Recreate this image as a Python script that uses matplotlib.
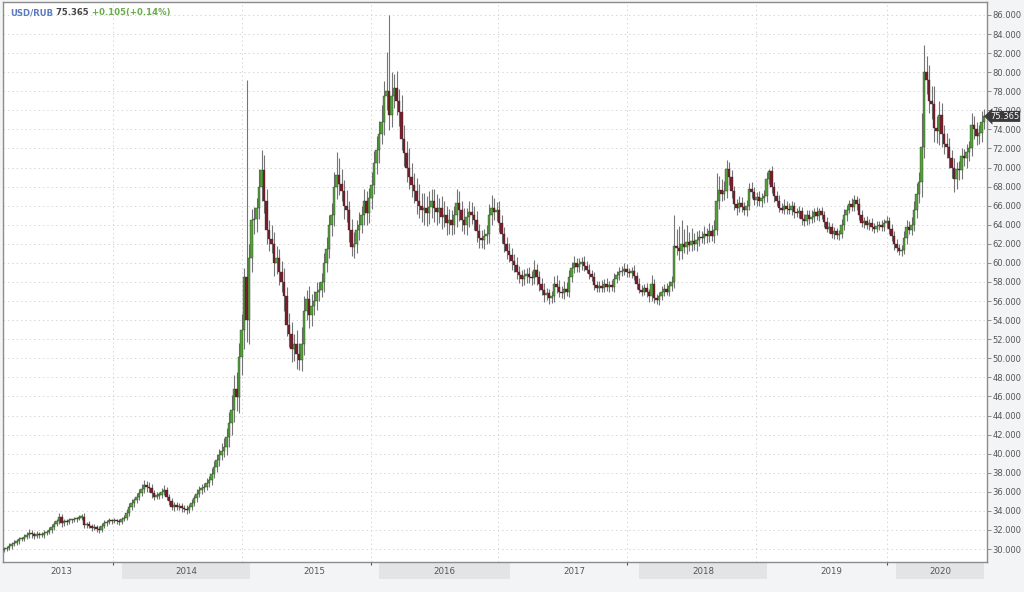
import numpy as np
import matplotlib.pyplot as plt
from matplotlib.patches import Rectangle

# weekly closes of USD/RUB (Mar 2013 .. Sep 2020)
closes = [
    30.0, 30.1, 30.3, 30.5, 30.6, 30.8, 31.0, 31.1, 31.3, 31.5,
    31.7, 31.6, 31.4, 31.6, 31.5, 31.5, 31.7, 31.8, 32.0, 32.3,
    32.6, 32.9, 33.4, 32.7, 32.9, 32.8, 33.0, 33.0, 33.1, 33.2,
    33.3, 33.4, 32.5, 32.6, 32.4, 32.2, 32.3, 32.1, 32.0, 32.4,
    32.7, 32.8, 33.0, 32.9, 33.0, 32.9, 32.8, 33.1, 33.3, 33.8,
    34.4, 34.8, 35.1, 35.5, 35.9, 36.3, 36.7, 36.5, 36.4, 35.9,
    35.5, 35.6, 35.7, 36.0, 36.2, 35.5, 35.0, 34.4, 34.6, 34.4,
    34.5, 34.3, 34.2, 34.1, 34.4, 34.8, 35.3, 35.8, 36.2, 36.4,
    36.5, 36.9, 37.2, 37.9, 38.6, 39.3, 39.9, 40.3, 40.7, 41.7,
    43.2, 44.6, 46.8, 45.9, 50.1, 53.0, 58.5, 54.0, 60.5, 64.5,
    64.6, 65.8, 68.0, 69.7, 66.5, 63.5, 62.5, 62.0, 60.0, 60.5,
    59.0, 58.0, 56.5, 53.5, 52.5, 51.0, 51.5, 50.5, 49.8, 51.5,
    55.0, 56.2, 54.5, 55.5, 56.0, 57.0, 57.2, 58.0, 60.0, 61.5,
    64.0, 65.0, 68.0, 69.2, 68.3, 67.5, 66.0, 65.5, 63.5, 61.7,
    62.0, 63.5, 64.0, 65.0, 66.5, 65.2, 66.8, 68.2, 70.5, 71.8,
    73.5, 74.8, 77.5, 78.0, 75.5, 77.5, 78.3, 77.0, 75.8, 73.0,
    71.5, 70.0, 69.0, 68.2, 67.5, 66.5, 66.0, 65.5, 65.8, 65.2,
    65.9, 66.5, 65.8, 65.3, 65.8, 64.8, 65.0, 64.2, 64.5, 64.0,
    65.0, 66.3, 65.5, 64.5, 64.0, 64.8, 65.3, 65.0, 64.5, 63.3,
    62.6, 62.4, 62.8, 63.0, 65.0, 65.8, 65.3, 65.6, 64.2, 63.0,
    62.0, 61.2, 60.8, 60.2, 59.8, 59.0, 58.7, 58.3, 58.6, 58.8,
    58.5, 58.4, 59.3, 58.5, 57.8, 57.2, 56.6, 56.8, 56.3, 56.5,
    57.8, 57.5, 57.0, 56.8, 57.3, 57.0, 58.5, 59.5, 60.0, 59.6,
    59.9, 60.1, 59.7, 59.3, 58.8, 58.5, 57.7, 57.4, 57.6, 57.4,
    57.8, 57.5, 57.7, 57.5, 58.3, 58.7, 59.0, 59.2, 59.4, 59.0,
    58.9, 59.2, 58.6, 57.8, 57.2, 57.0, 57.4, 56.9, 56.5, 57.8,
    56.3, 56.1, 56.5, 57.0, 57.3, 57.0, 57.6, 58.0, 61.8, 61.6,
    61.2, 62.0, 61.7, 62.2, 61.9, 62.3, 62.0, 62.4, 62.7, 62.6,
    63.0, 62.8, 63.4, 62.8, 63.5, 66.5, 67.6, 67.2, 67.5, 69.8,
    69.0, 67.5, 66.2, 65.8, 66.3, 65.9, 65.5, 66.0, 67.8, 67.4,
    66.6, 66.9, 66.5, 66.8, 67.0, 68.8, 69.6, 68.0, 67.0, 66.5,
    65.8, 65.6, 66.0, 65.7, 65.5, 66.0, 65.3, 65.2, 65.4, 64.6,
    64.4, 65.0, 64.6, 64.8, 65.3, 64.9, 65.4, 65.0, 64.3, 63.6,
    63.8, 63.0, 63.3, 62.9, 63.0, 64.0, 65.0, 65.6, 66.2, 65.9,
    66.6, 66.2, 65.0, 64.2, 64.4, 64.0, 64.2, 63.8, 63.6, 63.9,
    64.0, 63.8, 64.2, 64.4, 63.6, 62.8, 62.0, 61.6, 61.2, 61.4,
    62.6, 63.8, 63.5, 64.0, 65.5, 67.2, 68.5, 72.2, 80.0, 79.2,
    77.0, 76.7, 74.2, 73.8, 75.5, 73.5, 72.5, 72.2, 71.0, 70.0,
    68.8, 69.8, 69.7, 71.2, 71.0, 71.6, 72.0, 74.5, 74.0, 73.3,
    73.6, 74.8, 75.365,
]
first_open = 29.9

# wick lengths above the body top / below the body bottom
upper_wick = [
    .2, .2, .3, .2, .3, .2, .3, .2, .3, .3,
    .4, .3, .2, .3, .2, .3, .3, .2, .3, .3,
    .3, .3, .4, .3, .3, .2, .3, .2, .3, .2,
    .3, .3, .4, .2, .3, .2, .3, .2, .3, .3,
    .3, .2, .3, .2, .3, .2, .3, .3, .3, .4,
    .4, .4, .3, .4, .4, .5, .5, .4, .5, .4,
    .3, .4, .3, .4, .5, .3, .3, .4, .3, .3,
    .3, .3, .3, .4, .3, .4, .4, .5, .4, .4,
    .4, .5, .5, .6, .6, .7, .6, .8, .9, 1.0,
    1.2, 1.5, 1.4, 1.8, 1.5, 1.6, 1.0, 20.7, 1.5, 1.2,
    1.3, 1.0, 1.8, 2.1, 1.6, 1.2, 1.0, 1.5, 1.2, 1.3,
    1.0, 1.2, 1.5, 1.0, 1.2, 1.3, 1.0, 1.5, 1.1, 1.8,
    1.5, 1.0, 1.4, 1.2, 1.1, 1.0, 0.8, 0.9, 1.0, 1.2,
    1.0, 1.3, 1.5, 2.4, 1.8, 1.5, 1.2, 1.6, 1.0, 1.1,
    1.2, 1.0, 1.3, 1.0, 1.2, 1.0, 1.1, 1.3, 1.2, 1.5,
    1.4, 1.8, 1.6, 4.1, 8.0, 2.5, 1.5, 1.8, 1.2, 1.8,
    1.5, 1.3, 2.0, 1.5, 1.2, 1.4, 1.8, 1.3, 1.5, 1.2,
    1.6, 1.2, 1.3, 1.4, 1.0, 1.2, 1.5, 1.0, 1.2, 1.1,
    1.0, 1.4, 1.2, 1.0, 1.3, 1.0, 1.2, 1.1, 1.0, 0.9,
    0.8, 0.9, 0.8, 1.0, 1.2, 1.3, 1.0, 0.8, 0.9, 0.8,
    0.8, 0.7, 0.9, 0.8, 0.7, 0.8, 0.7, 0.6, 0.8, 0.7,
    0.8, 0.7, 1.0, 0.6, 0.7, 0.6, 0.7, 0.6, 0.5, 0.6,
    0.8, 0.9, 0.7, 0.6, 0.8, 0.7, 0.8, 0.6, 0.7, 0.5,
    0.6, 0.5, 0.6, 0.5, 0.6, 0.5, 0.5, 0.4, 0.5, 0.6,
    0.5, 0.6, 0.4, 0.5, 0.6, 0.5, 0.6, 0.5, 0.6, 0.5,
    0.5, 0.4, 0.6, 0.5, 0.6, 0.5, 0.4, 0.5, 0.4, 0.9,
    0.5, 0.4, 0.5, 0.6, 0.5, 0.6, 0.5, 0.6, 3.2, 1.8,
    2.3, 2.5, 1.6, 1.8, 1.0, 1.4, 0.8, 0.9, 0.8, 0.7,
    0.9, 0.7, 0.8, 0.6, 1.0, 2.9, 1.5, 1.2, 1.1, 1.0,
    0.8, 0.7, 0.6, 0.5, 0.7, 0.6, 0.5, 0.6, 0.6, 0.7,
    0.6, 0.5, 0.6, 0.5, 0.6, 0.7, 0.3, 0.6, 0.5, 0.5,
    0.6, 0.5, 0.7, 0.5, 0.6, 0.5, 0.4, 0.5, 0.6, 0.5,
    0.5, 0.6, 0.5, 0.7, 0.5, 0.6, 0.4, 0.5, 0.4, 0.5,
    0.5, 0.4, 0.5, 0.4, 0.5, 0.6, 0.7, 0.5, 0.4, 0.6,
    0.5, 0.4, 0.6, 0.5, 0.4, 0.5, 0.4, 0.5, 0.4, 0.5,
    0.4, 0.5, 0.4, 0.5, 0.4, 0.5, 0.6, 0.5, 0.4, 0.5,
    0.8, 0.7, 0.6, 0.8, 1.0, 1.2, 1.0, 3.5, 2.9, 1.7,
    1.6, 1.5, 1.9, 1.2, 1.5, 1.3, 1.0, 1.1, 0.9, 0.8,
    1.0, 0.8, 0.9, 0.8, 0.7, 0.9, 0.8, 1.2, 0.9, 0.8,
    0.9, 1.1, 0.8,
]
lower_wick = [
    .2, .2, .2, .3, .2, .2, .3, .2, .3, .2,
    .3, .4, .3, .2, .3, .2, .3, .2, .2, .3,
    .3, .2, .3, .4, .3, .3, .2, .3, .2, .3,
    .2, .3, .3, .3, .2, .3, .2, .3, .3, .2,
    .2, .3, .2, .3, .2, .3, .3, .2, .2, .3,
    .3, .3, .4, .3, .4, .3, .4, .5, .4, .5,
    .4, .3, .4, .3, .3, .4, .4, .3, .4, .3,
    .3, .4, .3, .4, .3, .3, .3, .4, .3, .4,
    .4, .3, .4, .5, .5, .5, .6, .6, .7, .8,
    1.0, 1.2, 1.3, 1.4, 1.6, 1.8, 2.0, 2.3, 2.5, 1.5,
    1.5, 1.4, 1.2, 1.5, 1.3, 1.5, 1.2, 1.0, 1.4, 1.2,
    1.3, 1.0, 1.5, 1.2, 1.3, 1.4, 1.3, 1.6, 1.0, 1.1,
    1.2, 1.0, 1.3, 1.1, 1.0, 0.9, 1.0, 0.8, 1.0, 1.0,
    1.0, 1.2, 1.1, 1.3, 1.2, 1.0, 1.4, 1.2, 1.3, 1.0,
    1.2, 1.0, 1.1, 0.9, 1.0, 1.2, 1.0, 1.1, 1.0, 1.2,
    1.3, 1.0, 1.4, 1.5, 1.6, 1.2, 1.3, 1.5, 1.4, 1.2,
    1.3, 1.5, 1.2, 1.3, 1.2, 1.4, 1.3, 1.2, 1.5, 1.3,
    1.1, 1.2, 1.5, 1.3, 1.1, 1.2, 1.0, 1.3, 1.2, 1.1,
    1.0, 1.2, 1.1, 1.2, 1.0, 1.1, 1.0, 0.9, 1.0, 1.1,
    1.0, 0.8, 0.9, 0.8, 0.9, 1.0, 0.8, 0.9, 1.0, 0.9,
    0.9, 0.8, 0.7, 0.9, 0.8, 0.7, 0.8, 0.7, 0.6, 0.7,
    0.6, 0.7, 0.6, 0.8, 0.7, 0.6, 0.7, 0.5, 0.6, 0.5,
    0.6, 0.7, 0.6, 0.5, 0.6, 0.5, 0.6, 0.5, 0.6, 0.5,
    0.5, 0.6, 0.5, 0.4, 0.5, 0.4, 0.5, 0.4, 0.5, 0.4,
    0.5, 0.4, 0.5, 0.4, 0.5, 0.4, 0.5, 0.4, 0.5, 0.5,
    0.4, 0.5, 0.4, 0.5, 0.4, 0.5, 0.4, 0.5, 0.6, 0.5,
    0.5, 0.4, 0.5, 0.4, 0.5, 0.4, 0.5, 0.5, 0.6, 0.8,
    0.9, 0.8, 0.7, 0.8, 0.6, 0.7, 0.6, 0.7, 0.6, 0.5,
    0.6, 0.7, 0.6, 0.5, 0.7, 0.6, 0.8, 0.7, 0.6, 0.7,
    0.8, 0.7, 0.6, 0.8, 0.5, 0.6, 0.5, 0.6, 0.5, 0.6,
    0.5, 0.6, 0.5, 0.6, 0.5, 0.6, 0.5, 0.7, 0.6, 0.5,
    0.5, 0.4, 0.5, 0.6, 0.4, 0.5, 0.6, 0.4, 0.5, 0.6,
    0.5, 0.4, 0.5, 0.4, 0.5, 0.4, 0.5, 0.4, 0.5, 0.4,
    0.5, 0.4, 0.5, 0.4, 0.5, 0.4, 0.5, 0.6, 0.4, 0.5,
    0.5, 0.6, 0.5, 0.4, 0.5, 0.4, 0.5, 0.4, 0.5, 0.4,
    0.4, 0.5, 0.4, 0.5, 0.6, 0.5, 0.6, 0.5, 0.4, 0.5,
    0.5, 0.6, 0.5, 0.6, 0.7, 0.8, 0.9, 1.6, 1.2, 1.5,
    1.3, 1.6, 1.5, 1.2, 1.4, 1.3, 1.1, 1.2, 1.0, 1.1,
    1.4, 1.1, 1.0, 0.9, 0.8, 1.0, 0.9, 0.8, 1.0, 0.9,
    0.8, 0.9, 0.8,
]

years = ['2013', '2014', '2015', '2016', '2017', '2018', '2019', '2020']
# week index where each new year starts
year_starts = [43.6, 95.2, 146.8, 197.6, 249.2, 300.8, 353.2]
# edges of the label strips under the chart (in week index)
band_edges = [-1.6, 47.2, 98.4, 150.0, 202.4, 254.0, 305.2, 356.8, 392.0]

closes = np.array(closes)
opens = np.concatenate([[first_open], closes[:-1]])
body_top = np.maximum(opens, closes)
body_bot = np.minimum(opens, closes)
highs = body_top + np.array(upper_wick)
lows = body_bot - np.array(lower_wick)
x = np.arange(len(closes))

fig = plt.figure(figsize=(10.24, 5.92), dpi=100, facecolor='#f3f4f6')
ax = fig.add_axes([3 / 1024, 30 / 592, 984 / 1024, 560 / 592])
ax.set_facecolor('white')

# grid first so candles sit on top
ax.set_yticks(np.arange(30, 87, 2))
ax.set_xticks(year_starts)
ax.grid(True, ls=(0, (1.5, 3)), color='#d6d6d6', lw=0.7)
ax.set_axisbelow(True)

up = closes >= opens
colors = np.where(up, '#55a13a', '#7b1e2c')
ax.vlines(x, lows, highs, color='#757575', lw=0.8, zorder=2)
ax.bar(x, np.maximum(body_top - body_bot, 0.12), bottom=body_bot, width=0.9,
       color=colors, edgecolor='#2a2a2a', linewidth=0.25, zorder=3)

ax.set_xlim(-0.4, 393.2)
ax.set_ylim(28.64, 87.36)

for s in ax.spines.values():
    s.set_color('#8c8c8c')
    s.set_linewidth(1)

ax.yaxis.tick_right()
ax.set_yticklabels(['%.3f' % v for v in np.arange(30, 87, 2)])
ax.tick_params(axis='y', direction='out', length=3, width=0.7, color='#8c8c8c',
               labelsize=6.0, labelcolor='#555555', pad=1)
ax.tick_params(axis='x', direction='out', length=2.5, width=0.8, color='#555555',
               labelbottom=False)

# year strips below the plot
xt = ax.get_xaxis_transform()
for k, yr in enumerate(years):
    a, b = band_edges[k], band_edges[k + 1]
    if k % 2 == 1:
        ax.add_patch(Rectangle((a, -0.031), b - a, 0.029, transform=xt,
                               facecolor='#e3e4e6', edgecolor='none', clip_on=False))
    ax.text((a + b) / 2, -0.0165, yr, transform=xt, ha='center', va='center',
            fontsize=6.2, color='#555555')

# last price tag, drawn over the 76.000 label as in the original
ax.text(1.003, closes[-1], '%.3f' % closes[-1], transform=ax.get_yaxis_transform(),
        ha='left', va='center', fontsize=6.0, color='white', zorder=10,
        bbox=dict(boxstyle='larrow,pad=0.12', fc='#3a3a3a', ec='none'))

# header
t1 = fig.text(10 / 1024, 1 - 15 / 592, 'USD/RUB', color='#5b7cc0', fontsize=6.1,
              fontweight='bold')
t2 = ax.annotate(' 75.365', xy=(1, 0), xycoords=t1, va='bottom', color='#444444',
                 fontsize=6.1, fontweight='bold')
ax.annotate(' +0.105(+0.14%)', xy=(1, 0), xycoords=t2, va='bottom', color='#6aab4a',
            fontsize=6.1, fontweight='bold')

fig.savefig('out.png', dpi=100, facecolor=fig.get_facecolor())
